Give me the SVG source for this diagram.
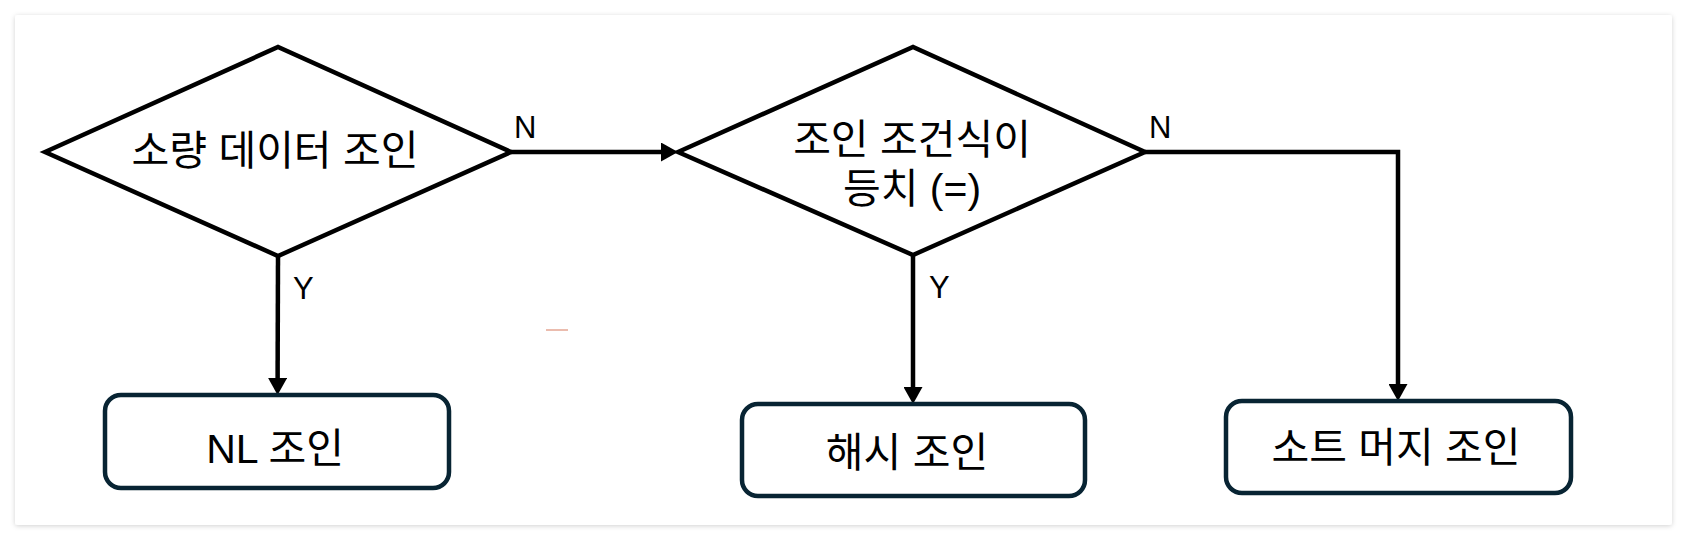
<svg xmlns="http://www.w3.org/2000/svg" width="1688" height="540" viewBox="0 0 1688 540">
  <defs>
    <filter id="shadow" x="-5%" y="-5%" width="110%" height="115%">
      <feDropShadow dx="0" dy="1" stdDeviation="2.5" flood-color="#000" flood-opacity="0.18"/>
    </filter>
    <marker id="arrow" markerUnits="userSpaceOnUse" markerWidth="19" markerHeight="19" refX="1" refY="9.5" orient="auto">
      <path d="M0,0 L17,9.5 L0,19 z" fill="#000"/>
    </marker>
    <style>
      .diamond { fill: #fff; stroke: #000; stroke-width: 4.5; stroke-linejoin: miter; }
      .box { fill: #fff; stroke: #082433; stroke-width: 4.5; }
      .conn { fill: none; stroke: #000; stroke-width: 4.5; marker-end: url(#arrow); }
      .label { font-family: "Liberation Sans", "Noto Sans CJK KR", sans-serif; font-size: 41px; fill: #000; text-anchor: middle; }
      .edge { font-family: "Liberation Sans", Arial, sans-serif; font-size: 31px; fill: #000; }
    </style>
  </defs>

  <rect x="0" y="0" width="1688" height="540" fill="#fff"/>
  <rect x="15" y="15" width="1657" height="510" rx="3" fill="#fff" filter="url(#shadow)"/>

  <g id="connectors">
    <path class="conn" d="M511,152 H662"/>
    <path class="conn" d="M278,256 L277.6,379"/>
    <path class="conn" d="M913,255 V388"/>
    <path class="conn" d="M1145,152 H1398 V385"/>
    <text class="edge" x="514" y="138">N</text>
    <text class="edge" x="1149" y="138">N</text>
    <text class="edge" x="293" y="299">Y</text>
    <text class="edge" x="929" y="298">Y</text>
  </g>

  <g id="decision-small-data">
    <polygon class="diamond" points="45,152 278,47 511,152 278,256"/>
    <text class="label" x="275" y="165">소량 데이터 조인</text>
  </g>

  <g id="decision-equi-join">
    <polygon class="diamond" points="678,152 913,47 1145,152 913,255"/>
    <text class="label" x="912" y="154">조인 조건식이</text>
    <text class="label" x="912" y="203">등치 (=)</text>
  </g>

  <g id="nl-join">
    <rect class="box" x="105" y="395" width="344" height="93" rx="16"/>
    <text class="label" x="275" y="463">NL 조인</text>
  </g>

  <g id="hash-join">
    <rect class="box" x="742" y="404" width="343" height="92" rx="16"/>
    <text class="label" x="907" y="467">해시 조인</text>
  </g>

  <g id="sort-merge-join">
    <rect class="box" x="1226" y="401" width="345" height="92" rx="16"/>
    <text class="label" x="1396" y="462">소트 머지 조인</text>
  </g>

  <line x1="546" y1="330" x2="568" y2="330" stroke="#ebbcae" stroke-width="2"/>
</svg>
